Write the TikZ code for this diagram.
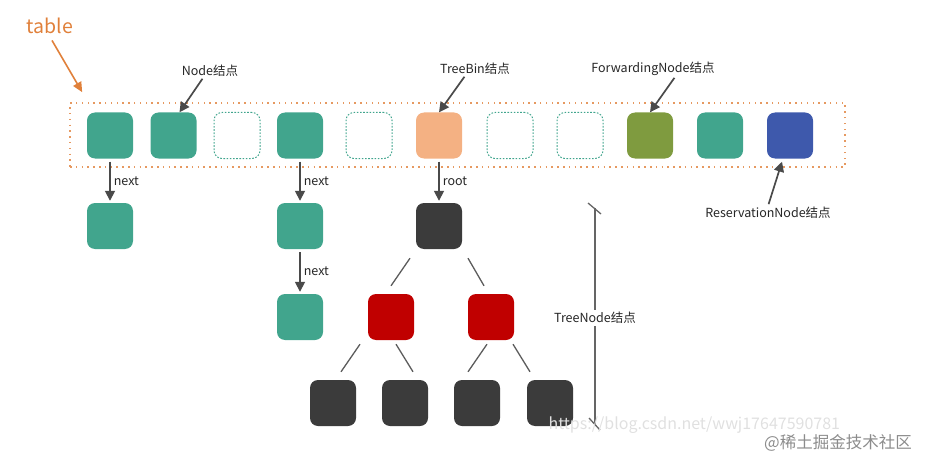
\documentclass[tikz,border=0pt]{standalone}
\usepackage{fontspec}
\setmainfont{Noto Sans CJK SC}
\usetikzlibrary{arrows.meta}

\definecolor{nodeteal}{HTML}{41A58D}
\definecolor{binpeach}{HTML}{F4B183}
\definecolor{fwdolive}{HTML}{7F9B3F}
\definecolor{resblue}{HTML}{3E59AC}
\definecolor{treered}{HTML}{C00000}
\definecolor{treedark}{HTML}{3B3B3B}
\definecolor{tableorange}{HTML}{E0803A}
\definecolor{linegray}{HTML}{4A4A4A}

\tikzset{
  slot/.style={rectangle,rounded corners=8pt,minimum size=46pt,inner sep=0pt},
  emptyslot/.style={slot,draw=nodeteal,line width=1pt,dash pattern=on 1.6pt off 1.6pt},
  lbl/.style={font=\fontsize{12.5}{14}\selectfont,text=black!85,inner sep=1pt},
  ptr/.style={draw=linegray,line width=1.7pt,-{Triangle[length=10pt,width=10pt]}},
  branch/.style={draw=linegray!90,line width=1.3pt}
}

\begin{document}
\begin{tikzpicture}[x=1pt,y=-1pt]
  \useasboundingbox (0,0) rectangle (934,468);

  % table
  \node[draw=tableorange!80,line width=1.6pt,dash pattern=on 1.5pt off 4.3pt,
        minimum width=775pt,minimum height=64pt] (tab) at (457.5,135) {};
  \node[slot,fill=nodeteal]  (s1)  at (110,135.5) {};
  \node[slot,fill=nodeteal]  (s2)  at (173.5,135.5) {};
  \node[emptyslot]           (s3)  at (237,135.5) {};
  \node[slot,fill=nodeteal]  (s4)  at (300,135.5) {};
  \node[emptyslot]           (s5)  at (369,135.5) {};
  \node[slot,fill=binpeach]  (s6)  at (439,135.5) {};
  \node[emptyslot]           (s7)  at (510,135.5) {};
  \node[emptyslot]           (s8)  at (580,135.5) {};
  \node[slot,fill=fwdolive]  (s9)  at (650,135.5) {};
  \node[slot,fill=nodeteal]  (s10) at (720,135.5) {};
  \node[slot,fill=resblue]   (s11) at (790,135.5) {};

  % linked lists
  \node[slot,fill=nodeteal] (n1)  at (110,226) {};
  \node[slot,fill=nodeteal] (n4a) at (300,226) {};
  \node[slot,fill=nodeteal] (n4b) at (300,317) {};
  \draw[ptr,shorten <=3pt,shorten >=2pt] (s1.south) -- (n1.north)
    node[midway,right,lbl,xshift=2pt]{next};
  \draw[ptr,shorten <=3pt,shorten >=2pt] (s4.south) -- (n4a.north)
    node[midway,right,lbl,xshift=2pt]{next};
  \draw[ptr,shorten <=3pt,shorten >=2pt] (n4a.south) -- (n4b.north)
    node[midway,right,lbl,xshift=2pt]{next};

  % red-black tree
  \node[slot,fill=treedark] (root) at (439,226) {};
  \node[slot,fill=treered]  (rl)   at (391,317) {};
  \node[slot,fill=treered]  (rr)   at (491,317) {};
  \node[slot,fill=treedark] (l1)   at (333,403) {};
  \node[slot,fill=treedark] (l2)   at (405,403) {};
  \node[slot,fill=treedark] (l3)   at (477,403) {};
  \node[slot,fill=treedark] (l4)   at (550,403) {};
  \draw[ptr,shorten <=3pt,shorten >=2pt] (s6.south) -- (root.north)
    node[midway,right,lbl,xshift=2pt]{root};
  \draw[branch] ([shift={(-29,9)}]root.south) -- ([shift={(0,-8)}]rl.north);
  \draw[branch] ([shift={(29,9)}]root.south) -- ([shift={(-7,-8)}]rr.north);
  \draw[branch] ([shift={(-31,4)}]rl.south) -- ([shift={(8,-8)}]l1.north);
  \draw[branch] ([shift={(5,4)}]rl.south) -- ([shift={(8,-8)}]l2.north);
  \draw[branch] ([shift={(-4,4)}]rr.south) -- ([shift={(-9,-8)}]l3.north);
  \draw[branch] ([shift={(22,4)}]rr.south) -- ([shift={(-20,-8)}]l4.north);

  % brace for the tree nodes
  \draw[linegray!85,line width=1.3pt] (588,203) -- (601,214);
  \draw[linegray!85,line width=1.3pt] (595,208) -- (595,425);
  \draw[linegray!85,line width=1.3pt] (589,418) -- (600,430);
  \node[lbl,fill=white,inner sep=2pt] (treenode) at (595,318) {TreeNode结点};

  % callouts
  \node[font=\fontsize{19.5}{21}\selectfont,text=tableorange] (tablelbl) at (50,26) {table};
  \draw[draw=tableorange,line width=1.6pt,-{Triangle[length=10pt,width=9pt]}]
    ([shift={(2,3)}]tablelbl.south) -- ([shift={(13,-10)}]tab.north west);
  \node[lbl] (nodelbl) at (210,71) {Node结点};
  \draw[ptr,shorten <=1pt] ([xshift=-7pt]nodelbl.south) -- ([xshift=6pt]s2.north);
  \node[lbl] (binlbl) at (475,69) {TreeBin结点};
  \draw[ptr,shorten <=1pt] ([xshift=-10pt]binlbl.south) -- (s6.north);
  \node[lbl] (fwdlbl) at (653,69) {ForwardingNode结点};
  \draw[ptr,shorten <=1pt] ([xshift=22pt]fwdlbl.south) -- (s9.north);
  \node[lbl] (reslbl) at (768,213) {ReservationNode结点};
  \draw[ptr,shorten <=2pt] (reslbl.north) -- ([shift={(-8,3)}]s11.south);

  % watermarks
  \node[anchor=west,font=\fontsize{16}{18}\selectfont,text=black!12] (url) at (545,425)
    {https://blog.csdn.net/wwj17647590781};
  \node[font=\fontsize{16.5}{18}\selectfont,text=black!45] (site) at (838,443)
    {@稀土掘金技术社区};
\end{tikzpicture}
\end{document}
